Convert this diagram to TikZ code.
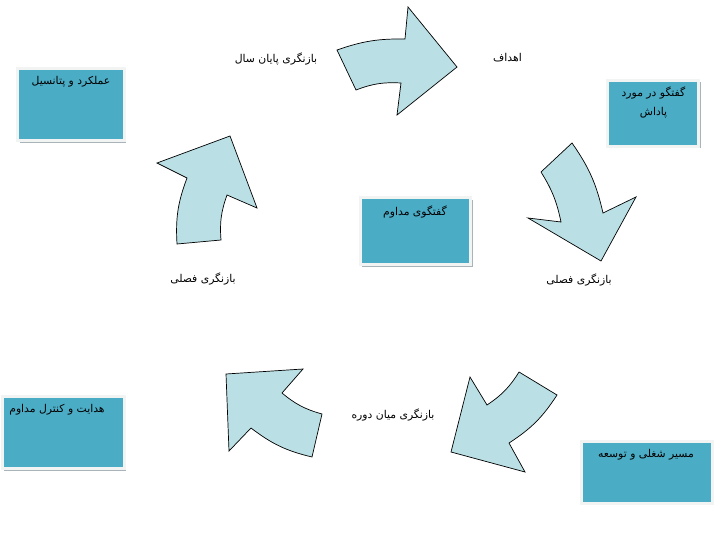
\documentclass[tikz,border=0pt]{standalone}
\usepackage{fontspec}
\newfontfamily\fa[Script=Arabic]{DejaVu Sans}
\TeXXeTstate=1
\usetikzlibrary{shadows}
\definecolor{boxblue}{HTML}{4BACC6}
\definecolor{arrowfill}{HTML}{BAE0E5}
\definecolor{framecol}{HTML}{F2F4F4}
\definecolor{shadowcol}{HTML}{A9B4B8}
\tikzset{
  panel/.style={rectangle, draw=framecol, line width=3pt, fill=boxblue, inner sep=0pt,
    drop shadow={shadow xshift=2pt, shadow yshift=-2pt, fill=shadowcol, opacity=1}},
  lbl/.style={font=\fa\fontsize{10.8}{18.4}\selectfont, text=black, inner sep=0pt, align=center},
  bigarrow/.style={fill=arrowfill, draw=black, line width=0.7pt, line join=miter}
}
\begin{document}
\begin{tikzpicture}[x=1pt,y=1pt]
\useasboundingbox (0,0) rectangle (722,542);
\fill[white] (0,0) rectangle (722,542);

% boxes
\node[panel, minimum width=106.4pt, minimum height=72.3pt] (b1) at (71,437.4) {};
\node[panel, minimum width=91pt, minimum height=66.3pt] (b2) at (653.3,428.7) {};
\node[panel, minimum width=110.6pt, minimum height=67pt] (b3) at (415.5,310.7) {};
\node[panel, minimum width=121.7pt, minimum height=72.6pt] (b4) at (63.3,109.5) {};
\node[panel, minimum width=131.3pt, minimum height=61.4pt] (b5) at (646.8,69.5) {};

% box texts
\node[lbl] (t1) at (71,460.3) {\beginR عملکرد و پتانسیل\endR};
\node[lbl] (t2) at (653.5,439.5) {\beginR گفتگو در مورد\endR\\\beginR پاداش\endR};
\node[lbl] (t3) at (415,330.3) {\beginR گفتگوی مداوم\endR};
\node[lbl] (t4) at (57,132) {\beginR هدایت و کنترل مداوم\endR};
\node[lbl] (t5) at (646,87) {\beginR مسیر شغلی و توسعه\endR};

% labels
\node[lbl] (l1) at (276,483) {\beginR بازنگری پایان سال\endR};
\node[lbl] (l2) at (507.5,484.7) {\beginR اهداف\endR};
\node[lbl] (l3) at (579,262) {\beginR بازنگری فصلی\endR};
\node[lbl] (l4) at (203,262.7) {\beginR بازنگری فصلی\endR};
\node[lbl] (l5) at (393,127) {\beginR بازنگری میان دوره\endR};

% arrows
\draw[bigarrow] (337,492) to[bend left=10] (405,503) -- (408,535) -- (457,475) -- (397,427) -- (401,459) to[bend right=12] (356,452) -- cycle;
\draw[bigarrow] (572,399) to[bend left=11] (603,329) -- (636,345) -- (601,281) -- (528,324) -- (561,320) to[bend right=10] (541,370) -- cycle;
\draw[bigarrow] (557,147) to[bend left=12] (509,99) -- (525,70) -- (451,90) -- (470,165) -- (487,137) to[bend right=12] (519,170) -- cycle;
\draw[bigarrow] (312,85) to[bend left=12] (251,114) -- (229,91) -- (226,168) -- (303,173) -- (282,149) to[bend right=12] (322,128) -- cycle;
\draw[bigarrow] (177,298) to[bend left=12] (187,364) -- (157,379) -- (230,406) -- (257,334) -- (227,347) to[bend right=12] (221,302) -- cycle;
\end{tikzpicture}
\end{document}
